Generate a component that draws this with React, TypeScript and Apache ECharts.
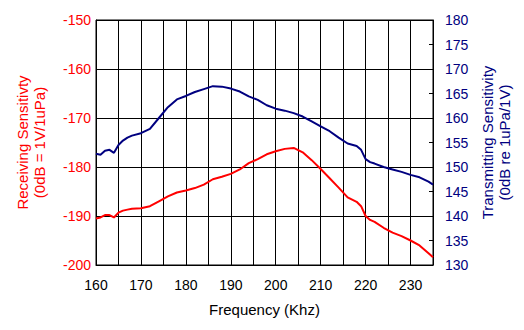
import React, { useEffect, useRef } from "react";
import * as echarts from "echarts";

const freqs = [160, 161, 162, 163, 164, 165, 166, 167, 168, 170, 172, 174, 176, 178, 180, 182, 184, 186, 188, 190, 192, 194, 196, 198, 200, 202, 204, 206, 208, 210, 212, 214, 216, 218, 219, 220, 221, 222, 224, 226, 228, 230, 232, 234, 235];

const transmitting = [152.7, 152.5, 153.3, 153.5, 152.9, 154.5, 155.4, 156.0, 156.4, 156.9, 157.8, 160.0, 162.2, 163.8, 164.5, 165.3, 165.9, 166.5, 166.4, 166.0, 165.4, 164.4, 163.7, 162.6, 161.9, 161.5, 161.0, 160.3, 159.3, 158.3, 157.3, 156.0, 154.8, 154.3, 153.5, 151.6, 151.0, 150.7, 150.0, 149.5, 149.0, 148.4, 147.9, 147.0, 146.4];

const receiving = [-190.5, -190.3, -189.8, -189.8, -190.3, -189.3, -188.9, -188.7, -188.5, -188.4, -188.0, -187.0, -186.0, -185.2, -184.8, -184.3, -183.6, -182.5, -182.0, -181.4, -180.5, -179.2, -178.4, -177.4, -176.8, -176.3, -176.1, -177.0, -178.6, -180.4, -182.3, -184.2, -186.2, -187.1, -188.0, -190.0, -190.8, -191.2, -192.4, -193.4, -194.1, -195.0, -196.0, -197.6, -198.4];

const xTitle = "Frequency (Khz)";
const leftTitle = "Receiving Sensitivty\n(0dB = 1V/1uPa)";
const rightTitle = "Transmitting Sensitivity\n(0dB re 1uPa/1V)";

const FONT = "'Liberation Sans', Arial, sans-serif";

export default function App() {
  const ref = useRef<HTMLDivElement>(null);
  useEffect(() => {
    if (!ref.current) return;
    const chart = echarts.init(ref.current, null, { renderer: "svg" });
    chart.setOption({
      animation: false,
      backgroundColor: "#ffffff",
      textStyle: { fontFamily: FONT },
      grid: {
        left: 96,
        right: 91,
        top: 20,
        bottom: 65,
        show: true,
        borderColor: "#000",
        borderWidth: 1,
        backgroundColor: "transparent",
      },
      xAxis: {
        type: "value",
        min: 160,
        max: 235,
        interval: 5,
        name: xTitle,
        nameLocation: "middle",
        nameGap: 37,
        nameTextStyle: { fontFamily: FONT, fontSize: 15, color: "#000" },
        axisLine: { show: true, lineStyle: { color: "#000", width: 1 } },
        axisTick: { show: false },
        splitLine: { show: true, lineStyle: { color: "#000", width: 1 } },
        axisLabel: {
          fontFamily: FONT,
          fontSize: 14,
          color: "#000",
          margin: 13,
          showMaxLabel: false,
          formatter: (v: number) => (v % 10 === 0 ? String(v) : ""),
        },
      },
      yAxis: [
        {
          type: "value",
          position: "left",
          min: -200,
          max: -150,
          interval: 10,
          name: leftTitle,
          nameLocation: "middle",
          nameGap: 48,
          nameTextStyle: { fontFamily: FONT, fontSize: 15, color: "#ff0000", lineHeight: 17, align: "center" },
          axisLine: { show: true, lineStyle: { color: "#000", width: 1 } },
          axisTick: { show: false },
          splitLine: { show: true, lineStyle: { color: "#000", width: 1 } },
          axisLabel: { fontFamily: FONT, fontSize: 14, color: "#ff0000", margin: 5 },
        },
        {
          type: "value",
          position: "right",
          min: 130,
          max: 180,
          interval: 5,
          name: rightTitle,
          nameLocation: "middle",
          nameGap: 45,
          nameRotate: 90,
          nameTextStyle: { fontFamily: FONT, fontSize: 15, color: "#000080", lineHeight: 17, align: "center" },
          axisLine: { show: true, lineStyle: { color: "#000", width: 1 } },
          axisTick: { show: true, inside: true, length: 4, lineStyle: { color: "#000" } },
          splitLine: { show: false },
          axisLabel: { fontFamily: FONT, fontSize: 14, color: "#000080", margin: 12 },
        },
      ],
      series: [
        {
          type: "line",
          yAxisIndex: 1,
          data: freqs.map((f, i) => [f, transmitting[i]]),
          showSymbol: false,
          lineStyle: { color: "#000080", width: 2 },
          itemStyle: { color: "#000080" },
        },
        {
          type: "line",
          yAxisIndex: 0,
          data: freqs.map((f, i) => [f, receiving[i]]),
          showSymbol: false,
          lineStyle: { color: "#ff0000", width: 2 },
          itemStyle: { color: "#ff0000" },
        },
      ],
    });
    return () => chart.dispose();
  }, []);
  return (
    <div
      ref={ref}
      style={{ position: "fixed", left: 0, top: 0, width: 524, height: 330 }}
    />
  );
}
